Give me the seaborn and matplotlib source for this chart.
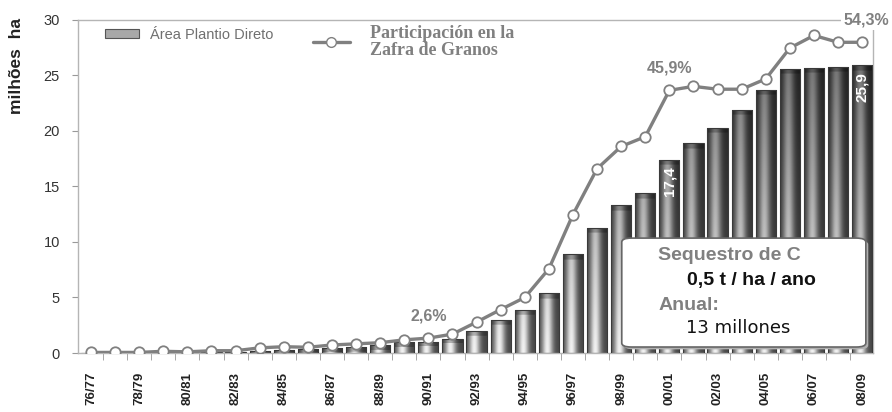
import numpy as np
import pandas as pd
import matplotlib
matplotlib.use("Agg")
import matplotlib.pyplot as plt
import seaborn as sns
from matplotlib.patches import FancyBboxPatch, Patch
from matplotlib.lines import Line2D

# ---------------- data ----------------
seasons = ["76/77", "77/78", "78/79", "79/80", "80/81", "81/82", "82/83", "83/84",
           "84/85", "85/86", "86/87", "87/88", "88/89", "89/90", "90/91", "91/92",
           "92/93", "93/94", "94/95", "95/96", "96/97", "97/98", "98/99", "99/00",
           "00/01", "01/02", "02/03", "03/04", "04/05", "05/06", "06/07", "07/08",
           "08/09"]

# area under no-till, million ha
area = [0.01, 0.01, 0.02, 0.03, 0.05, 0.08, 0.12, 0.2, 0.3, 0.35, 0.45, 0.55,
        0.7, 0.95, 1.0, 1.3, 2.0, 3.0, 3.9, 5.4, 8.9, 11.3, 13.3, 14.4, 17.4,
        18.9, 20.3, 21.9, 23.7, 25.6, 25.7, 25.8, 25.9]

# share of grain harvest, %
share = [0.1, 0.1, 0.1, 0.3, 0.2, 0.4, 0.4, 0.9, 1.1, 1.0, 1.4, 1.6, 1.8, 2.3,
         2.6, 3.3, 5.4, 7.6, 9.7, 14.7, 24.2, 32.2, 36.1, 37.8, 45.9, 46.6,
         46.1, 46.1, 47.9, 53.3, 55.5, 54.3, 54.3]

share_labels = {14: "2,6%", 24: "45,9%", 32: "54,3%"}
area_labels = {24: "17,4", 32: "25,9"}

box_lines = ["Sequestro de C", "0,5 t / ha / ano", "Anual:", "13 millones"]

df = pd.DataFrame({"safra": seasons, "area": area, "share": share})
n = len(df)

# ---------------- figure ----------------
sns.set_style("white")
plt.rcParams["font.family"] = ["Liberation Sans", "DejaVu Sans"]

fig = plt.figure(figsize=(8.92, 4.12), dpi=100)
ax = fig.add_axes([0.0874, 0.1432, 0.8913, 0.8083])

sns.barplot(data=df, x="safra", y="area", color="#888888", width=0.84,
            ax=ax, zorder=2)

# shaded "cylinder" look for every bar
for p in list(ax.patches):
    x0, w, h = p.get_x(), p.get_width(), p.get_height()
    xs = np.linspace(0, 1, 40)
    ys = np.linspace(0, h, max(int(h * 12), 2))
    prof = 0.28 + 0.67 * np.exp(-((xs - 0.4) / 0.27) ** 2)
    vert = 1 - 0.52 * ys / 26
    cap = np.where(ys > h - 0.45, 0.75, 1.0)
    img = np.outer(vert * cap, prof)
    im = ax.imshow(img, extent=[x0, x0 + w, 0, h], origin="lower", cmap="gray",
                   vmin=0, vmax=1, aspect="auto", zorder=2,
                   interpolation="bilinear")
    im.set_clip_path(p)
    p.set_facecolor("none")
    p.set_edgecolor("#3a3a3a")
    p.set_linewidth(0.8)
    p.set_zorder(3)

for i, txt in area_labels.items():
    ax.text(i, area[i] - 0.6, txt, rotation=90, ha="center", va="top",
            color="white", fontweight="bold", fontsize=11, zorder=4)

ax.set_xlim(-0.54, n - 0.55)
ax.set_ylim(0, 30)
ax.set_yticks(range(0, 31, 5))
ax.set_xticks(range(0, n, 2))
ax.set_xticklabels(seasons[::2])
ax.set_xticks(np.arange(0.5, n - 1, 1), minor=True)
ax.tick_params(axis="x", which="major", length=0, pad=13.5, bottom=True,
               labelsize=9.5, labelcolor="#222222", labelrotation=90)
ax.tick_params(axis="x", which="minor", length=5, color="#999999", bottom=True)
ax.tick_params(axis="y", length=4, color="#999999", pad=9, labelsize=10.5,
               labelcolor="#333333", left=True)
for lab in ax.get_xticklabels():
    lab.set_fontweight("bold")
ax.set_xlabel("")
ax.set_ylabel("milhões  ha", fontweight="bold", fontsize=12.5, color="#222222")
ax.yaxis.set_label_coords(-0.068, 0.862)
for s in ax.spines.values():
    s.set_visible(True)
    s.set_color("#b5b5b5")
    s.set_linewidth(1.0)

# ---------------- share line on a hidden twin axis ----------------
ax2 = ax.twinx()
sns.lineplot(x=df.index, y=df["share"], ax=ax2, color="#808080", lw=2.4,
             marker="o", markersize=7.5, markerfacecolor="white",
             markeredgecolor="#808080", markeredgewidth=1.3, zorder=5)
ax2.set_ylim(0, 30 * 1.94)
ax2.set_xlim(ax.get_xlim())
ax2.set_axis_off()

for i, txt in share_labels.items():
    dx = 3 if i == n - 1 else 0
    bg = dict(facecolor="white", edgecolor="none", pad=2) if i == n - 1 else None
    ax2.annotate(txt, xy=(i, share[i]), xytext=(dx, 16), textcoords="offset points",
                 ha="center", va="center", fontsize=11.5, fontweight="bold",
                 color="#808080", bbox=bg, annotation_clip=False, zorder=8)

# ---------------- legend ----------------
h1 = Patch(facecolor="#a8a8a8", edgecolor="#555555", linewidth=0.8)
leg1 = ax2.legend([h1], ["Área Plantio Direto"], loc="upper left",
                  bbox_to_anchor=(0.034, 0.976), frameon=False, borderpad=0,
                  borderaxespad=0, handlelength=2.35, handleheight=0.6,
                  handletextpad=0.75,
                  prop={"family": "Liberation Sans", "style": "normal",
                        "size": 10.5})
for t in leg1.get_texts():
    t.set_color("#707070")
ax2.add_artist(leg1)

h2 = Line2D([], [], color="#808080", lw=2.4, marker="o", markersize=7,
            markerfacecolor="white", markeredgecolor="#808080")
leg2 = ax2.legend([h2], ["Participación en la\nZafra de Granos"], loc="upper left",
                  bbox_to_anchor=(0.2956, 0.985), frameon=False, borderpad=0,
                  borderaxespad=0, handlelength=2.05, handletextpad=1.1,
                  prop={"family": "Liberation Serif", "weight": "bold", "size": 13})
for t in leg2.get_texts():
    t.set_color("#808080")
    t.set_linespacing(1.0)

# ---------------- info box ----------------
shadow = FancyBboxPatch((0.687, 0.011), 0.307, 0.327,
                        boxstyle="round,pad=0,rounding_size=0.012",
                        transform=ax2.transAxes, facecolor="#b0b0b0",
                        edgecolor="none", zorder=6, clip_on=False)
box = FancyBboxPatch((0.684, 0.018), 0.307, 0.327,
                     boxstyle="round,pad=0,rounding_size=0.012",
                     transform=ax2.transAxes, facecolor="white",
                     edgecolor="#666666", linewidth=1.2, zorder=7, clip_on=False)
ax2.add_patch(shadow)
ax2.add_patch(box)

ax2.text(0.7296, 0.294, box_lines[0], transform=ax2.transAxes, fontsize=14,
         fontweight="bold", color="#808080", va="center", zorder=9)
ax2.text(0.766, 0.219, box_lines[1], transform=ax2.transAxes, fontsize=14,
         fontweight="bold", color="#111111", va="center", zorder=9)
ax2.text(0.7296, 0.144, box_lines[2], transform=ax2.transAxes, fontsize=14,
         fontweight="bold", color="#808080", va="center", zorder=9)
ax2.text(0.765, 0.075, box_lines[3], transform=ax2.transAxes, fontsize=13,
         family="DejaVu Sans", color="#111111", va="center", zorder=9)

fig.savefig("out.png", dpi=100)
